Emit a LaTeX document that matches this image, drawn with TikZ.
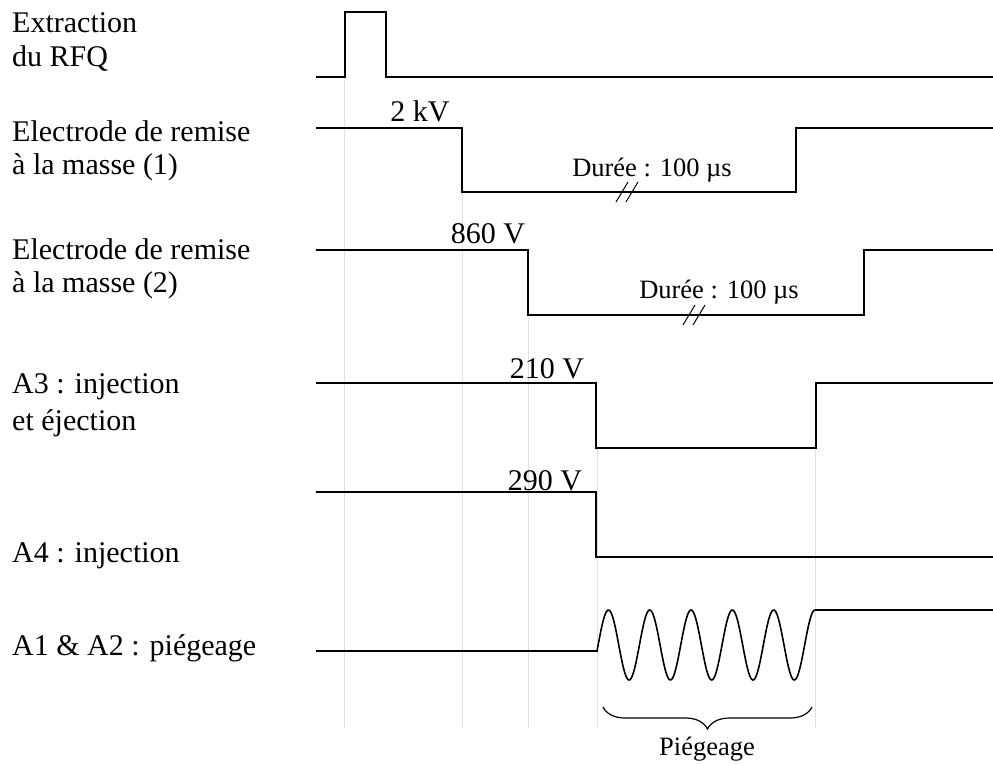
\documentclass[tikz,border=0pt]{standalone}
\usepackage{fontspec}
\setmainfont{Liberation Serif}
\usetikzlibrary{decorations.pathreplacing}

\tikzset{
  signal/.style={line width=1.6pt, line join=miter},
  guide/.style={line width=0.8pt, black!12},
  cut/.style={line width=1pt},
  sigtext/.style={anchor=base west, inner sep=0pt, font=\fontsize{30}{35}\selectfont},
  levtext/.style={anchor=base, inner sep=0pt, font=\fontsize{30}{35}\selectfont},
  smalltext/.style={anchor=base, inner sep=0pt, font=\fontsize{26.5}{30}\selectfont},
}

\begin{document}
\begin{tikzpicture}[x=1pt, y=-1pt]
    \useasboundingbox (0,0) rectangle (993,765);

    % Draw the guide lines
    \draw[guide] (344,77) -- (344,728);
    \draw[guide] (462,192) -- (462,728);
    \draw[guide] (528,315) -- (528,728);
    \draw[guide] (597,448) -- (597,728);
    \draw[guide] (815,448) -- (815,728);

    % Draw the signals
    \draw[signal] (316,77) -- (345,77) -- (345,12) -- (386,12) -- (386,77) -- (993,77);
    \draw[signal] (316,128) -- (462,128) -- (462,192) -- (796,192) -- (796,128) -- (993,128);
    \draw[signal] (316,250) -- (528,250) -- (528,315) -- (864,315) -- (864,250) -- (993,250);
    \draw[signal] (316,383) -- (596,383) -- (596,448) -- (816,448) -- (816,383) -- (993,383);
    \draw[signal] (316,492) -- (596,492) -- (596,557) -- (993,557);
    \draw[signal] (316,651) -- (597,651)
        -- plot[domain=0:218, samples=240] ({597+\x}, {645-35*sin(-9.74+8.716*\x)})
        -- (993,610);

    % Draw the cut marks
    \draw[cut] (616,202) -- (628,182);
    \draw[cut] (626,202) -- (638,182);
    \draw[cut] (683,325) -- (695,305);
    \draw[cut] (693,325) -- (705,305);

    % Draw the brace
    \draw[decorate, decoration={brace, mirror, amplitude=22pt}, line width=1.2pt]
        (603,707) -- (812,707);

    % Place the signal names
    \node (rfqA) at (12,33) [sigtext] {Extraction};
    \node (rfqB) at (12,67) [sigtext] {du RFQ};
    \node (elAA) at (12,142) [sigtext] {Electrode de remise};
    \node (elAB) at (12,175) [sigtext] {à la masse (1)};
    \node (elBA) at (12,259) [sigtext] {Electrode de remise};
    \node (elBB) at (12,292) [sigtext] {à la masse (2)};
    \node (athA) at (12,393) [sigtext] {A3 : injection};
    \node (athB) at (12,430) [sigtext] {et éjection};
    \node (afo) at (12,562) [sigtext] {A4 : injection};
    \node (aon) at (12,655) [sigtext] {A1 \& A2 : piégeage};

    % Place the levels and durations
    \node (levA) at (420,122) [levtext] {2 kV};
    \node (levB) at (488,243) [levtext] {860 V};
    \node (levC) at (547,378) [levtext] {210 V};
    \node (levD) at (545,490) [levtext] {290 V};
    \node (durA) at (652,176) [smalltext] {Durée : 100 µs};
    \node (durB) at (719,298) [smalltext] {Durée : 100 µs};
    \node (trap) at (707,755) [smalltext] {Piégeage};

\end{tikzpicture}
\end{document}
